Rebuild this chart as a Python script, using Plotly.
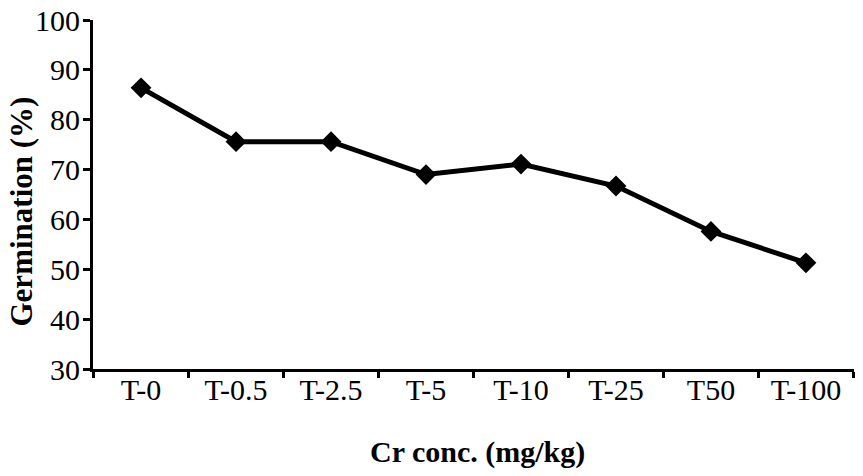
import plotly.graph_objects as go

categories = ["T-0", "T-0.5", "T-2.5", "T-5", "T-10", "T-25", "T50", "T-100"]
germination = [86.4, 75.6, 75.6, 69.0, 71.1, 66.7, 57.6, 51.3]
y_ticks = [30, 40, 50, 60, 70, 80, 90, 100]

fig = go.Figure(
    go.Scatter(
        x=categories,
        y=germination,
        mode="lines+markers",
        line=dict(color="black", width=5),
        marker=dict(symbol="diamond", size=16, color="black"),
        cliponaxis=False,
    )
)

font = "Liberation Serif, Times New Roman, serif"
fig.update_layout(
    width=863,
    height=476,
    margin=dict(l=93, r=9, t=20, b=107),
    plot_bgcolor="white",
    paper_bgcolor="white",
    showlegend=False,
    font=dict(family=font, color="black", size=30),
)
fig.update_xaxes(
    type="category",
    automargin=False,
    showline=True,
    linecolor="black",
    linewidth=3,
    ticks="outside",
    tickson="boundaries",
    ticklen=6,
    tickwidth=3,
    tickcolor="black",
    showgrid=False,
    tickfont=dict(size=30),
    ticklabelstandoff=-8,
)
fig.update_yaxes(
    range=[30, 100],
    tickvals=y_ticks,
    automargin=False,
    showline=True,
    linecolor="black",
    linewidth=3,
    ticks="outside",
    ticklen=7,
    tickwidth=3,
    tickcolor="black",
    showgrid=False,
    zeroline=False,
    tickfont=dict(size=30),
    ticklabelstandoff=-3,
)
fig.add_annotation(
    text="<b>Cr conc. (mg/kg)</b>",
    xref="paper", yref="paper", x=0.5, y=0,
    xanchor="center", yanchor="top",
    xshift=4, yshift=-64,
    showarrow=False, font=dict(size=30),
)
fig.add_annotation(
    text="<b>Germination (%)</b>",
    xref="paper", yref="paper", x=0, y=0.5,
    xanchor="center", yanchor="middle",
    xshift=-72, yshift=-17, textangle=-90,
    showarrow=False, font=dict(size=31),
)

fig.write_html(
    "out.html",
    config={"displayModeBar": False},
    post_script="document.body.style.margin='0';",
)
